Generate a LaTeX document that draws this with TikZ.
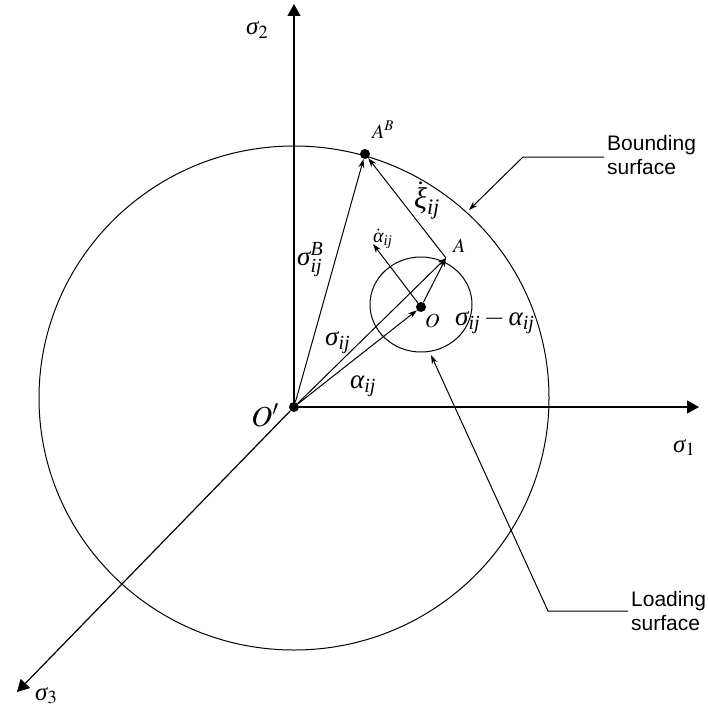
\documentclass[tikz,border=0pt]{standalone}
\usepackage{amsmath}
\usepackage{mathptmx}
\usepackage[no-math]{fontspec}
\setmainfont{Liberation Serif}
\newfontfamily\calloutfont{Liberation Sans}
\usetikzlibrary{arrows.meta, positioning}
\newcommand{\gr}[1]{\text{\itshape #1}}

\begin{document}
\begin{tikzpicture}[
	  x=1pt, y=-1pt,
	  dot/.style={circle, fill=black, inner sep=0pt, minimum size=10pt},
	  axis/.style={line width=1.2pt, -{Triangle[length=12pt, width=13pt]}},
	  arrow/.style={line width=1pt, -{Stealth[length=9pt, width=6pt]}},
	  surface/.style={line width=1pt},
	  biglabel/.style={font=\fontsize{27}{29}\selectfont, inner sep=0pt, anchor=base west},
	  smalllabel/.style={font=\fontsize{20}{22}\selectfont, inner sep=0pt, anchor=base west},
	  callout/.style={font=\calloutfont\fontsize{21}{24}\selectfont, align=left, anchor=north west, inner sep=3pt}
	]

	\useasboundingbox (0,0) rectangle (707,709);

	% surfaces
	\draw [surface] (294,398) ellipse [x radius=255, y radius=252];
	\draw [surface] (421,304.5) ellipse [x radius=51, y radius=47.5];

	\node (origin) [dot] at (294,407) {};
	\node (center) [dot] at (421,307) {};
	\node (bound) [dot] at (365,154) {};
	\coordinate (state) at (446,258);
	\coordinate (rate) at (373,244);
	\coordinate (s1end) at (699,407);
	\coordinate (s2end) at (294,4);
	\coordinate (s3end) at (17,692);

	% axes
	\draw [axis] (origin) -- (s1end);
	\draw [axis] (origin) -- (s2end);
	\draw [axis] (origin) -- (s3end);

	% vectors
	\draw [arrow] (origin) -- (bound);
	\draw [arrow] (origin) -- (state);
	\draw [arrow] (origin) -- (center);
	\draw [arrow] (center) -- (state);
	\draw [arrow] (state) -- (bound);
	\draw [arrow] (center) -- (rate);

	\node (s1label) [biglabel, font=\fontsize{25}{27}\selectfont] at (673,452) {$\gr{σ}_1$};
	\node (s2label) [biglabel, font=\fontsize{25}{27}\selectfont] at (246,35) {$\gr{σ}_2$};
	\node (s3label) [biglabel, font=\fontsize{25}{27}\selectfont] at (35,700) {$\gr{σ}_3$};
	\node (originlabel) [biglabel, anchor=base east, font=\fontsize{29}{31}\selectfont] at (279,426) {$O'$};
	\node (boundlabel) [smalllabel] at (372,138) {$A^B$};
	\node (statelabel) [smalllabel] at (453,252) {$A$};
	\node (centerlabel) [smalllabel] at (425,327) {$O$};
	\node (sbij) [biglabel] at (297,265) {$\gr{σ}_{\gr{ij}}^{\gr{B}}$};
	\node (xiij) [biglabel, font=\fontsize{30}{32}\selectfont] at (414,208) {$\dot{\gr{ξ}}_{\gr{ij}}$};
	\node (alphadot) [smalllabel] at (373,242) {$\dot{\gr{α}}_{\gr{ij}}$};
	\node (sij) [biglabel] at (325,345) {$\gr{σ}_{\gr{ij}}$};
	\node (aij) [biglabel] at (350,388) {$\gr{α}_{\gr{ij}}$};
	\node (diffij) [biglabel] at (455,325) {$\gr{σ}_{\gr{ij}}-\gr{α}_{\gr{ij}}$};

	% callouts
	\node (bstext) [callout] at (604,132) {Bounding\\surface};
	\node (lstext) [callout] at (628,588) {Loading\\surface};
	\coordinate (bsknee) at (523,157);
	\coordinate (bstip) at (469,210);
	\coordinate (lsknee) at (548,611);
	\coordinate (lstip) at (431,355);
	\draw [arrow] (bstext.west |- bsknee) -- (bsknee) -- (bstip);
	\draw [arrow] (lstext.west |- lsknee) -- (lsknee) -- (lstip);

	\end{tikzpicture}
\end{document}
